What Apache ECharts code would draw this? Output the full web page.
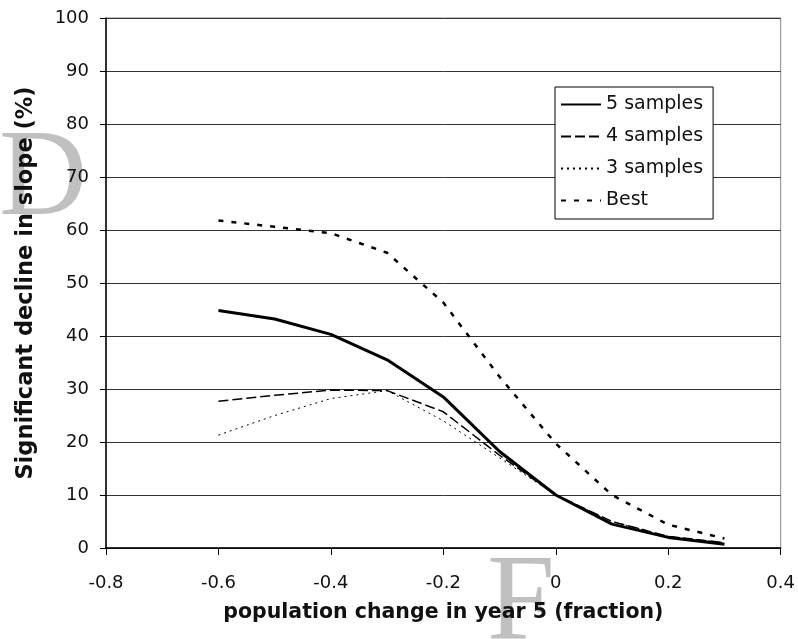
<!DOCTYPE html>
<html>
<head>
<meta charset="utf-8">
<script src="https://cdn.jsdelivr.net/npm/echarts@6/dist/echarts.min.js"></script>
<style>
  html, body { margin: 0; padding: 0; background: #fff; }
  #chart { width: 798px; height: 639px; }
</style>
</head>
<body>
<div id="chart"></div>
<script>
// population change in year 5 (fraction)
var xValues = [-0.6, -0.5, -0.4, -0.3, -0.2, -0.1, 0, 0.1, 0.2, 0.3];

// significant decline in slope (%)
var fiveSamples  = [44.8, 43.2, 40.3, 35.5, 28.5, 18.2, 10.0, 4.5, 2.0, 0.7];
var fourSamples  = [27.7, 28.8, 29.8, 29.7, 25.7, 17.5, 10.0, 5.0, 2.2, 1.0];
var threeSamples = [21.3, 25.0, 28.2, 29.7, 24.0, 17.0, 10.0, 5.0, 2.2, 1.0];
var best         = [61.8, 60.6, 59.4, 55.7, 46.3, 32.3, 19.7, 10.0, 4.4, 1.8];

var seriesNames = ["5 samples", "4 samples", "3 samples", "Best"];

function pairs(ys) {
  var res = [];
  for (var i = 0; i < xValues.length; i++) {
    res.push([xValues[i], ys[i]]);
  }
  return res;
}

var chart = echarts.init(document.getElementById("chart"));
var font = "DejaVu Sans";

var option = {
  backgroundColor: "#fff",
  animation: false,
  textStyle: { fontFamily: font },
  grid: {
    left: 106, right: 17, top: 18, bottom: 91,
    show: true, borderColor: "#888", borderWidth: 1, backgroundColor: "transparent"
  },
  graphic: [
    // grey letters behind the chart
    { type: "text", z: -10, left: -1, top: 121,
      style: { text: "D", font: "122px 'Liberation Serif'", fill: "#c0c0c0" } },
    { type: "text", z: -10, left: 487, top: 545,
      style: { text: "F", font: "122px 'Liberation Serif'", fill: "#c0c0c0" } }
  ],
  legend: {
    left: 555, top: 87,
    orient: "vertical",
    data: seriesNames,
    backgroundColor: "#fff",
    borderColor: "#000",
    borderWidth: 1,
    padding: [8, 10, 9, 5],
    itemWidth: 40,
    itemHeight: 14,
    itemGap: 13,
    // hide the marker dot, keep only the line sample
    itemStyle: { color: "transparent", borderColor: "transparent", borderWidth: 0, opacity: 0 },
    textStyle: { fontFamily: font, fontSize: 19, color: "#111" }
  },
  xAxis: {
    type: "value",
    min: -0.8, max: 0.4, interval: 0.2,
    name: "population change in year 5 (fraction)",
    nameLocation: "middle",
    nameGap: 54,
    nameTextStyle: { fontFamily: font, fontSize: 20.5, fontWeight: "bold", color: "#111" },
    axisLine: { onZero: false, lineStyle: { color: "#000", width: 1.5 } },
    axisTick: { inside: false, length: 7, lineStyle: { color: "#000" } },
    axisLabel: {
      margin: 26, fontSize: 18, color: "#111", fontFamily: font,
      formatter: function (v) { return String(+v.toFixed(1)); }
    },
    splitLine: { show: false }
  },
  yAxis: {
    type: "value",
    min: 0, max: 100, interval: 10,
    name: "Significant decline in slope (%)",
    nameLocation: "middle",
    nameGap: 68,
    nameTextStyle: { fontFamily: font, fontSize: 22.5, fontWeight: "bold", color: "#111" },
    axisLine: { show: true, onZero: false, lineStyle: { color: "#000", width: 1.5 } },
    axisTick: { show: true, inside: false, length: 6, lineStyle: { color: "#000" } },
    axisLabel: { margin: 17, fontSize: 18, color: "#111", fontFamily: font },
    splitLine: { show: true, lineStyle: { color: "#333", width: 1 } }
  },
  series: [
    {
      name: "5 samples", type: "line", data: pairs(fiveSamples),
      symbol: "none", z: 5,
      lineStyle: { color: "#000", width: 3, type: "solid" }, itemStyle: { color: "#000" }
    },
    {
      name: "4 samples", type: "line", data: pairs(fourSamples),
      symbol: "none", z: 4,
      lineStyle: { color: "#000", width: 1.5, type: [10, 4] }, itemStyle: { color: "#000" }
    },
    {
      name: "3 samples", type: "line", data: pairs(threeSamples),
      symbol: "none", z: 3,
      lineStyle: { color: "#000", width: 1, type: [2, 4] }, itemStyle: { color: "#000" }
    },
    {
      name: "Best", type: "line", data: pairs(best),
      symbol: "none", z: 2,
      lineStyle: { color: "#000", width: 2.5, type: [5, 8] }, itemStyle: { color: "#000" }
    }
  ]
};

option && chart.setOption(option);
</script>
</body>
</html>
